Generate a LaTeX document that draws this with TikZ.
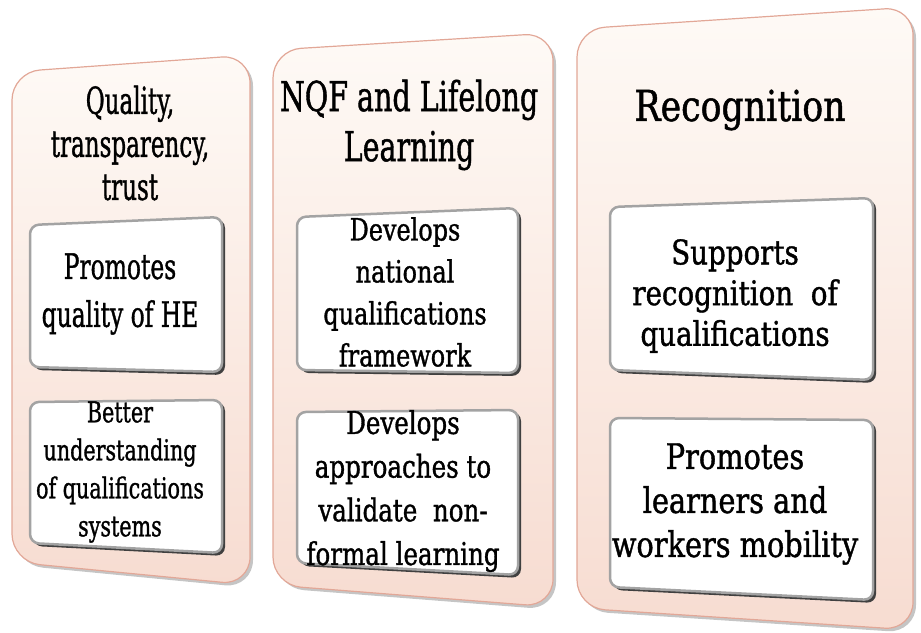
\documentclass[tikz,border=0pt]{standalone}
\usepackage{fontspec}
\setmainfont[FakeBold=1.2]{DejaVu Serif Condensed}
\definecolor{paneltop}{HTML}{FEFAF6}
\definecolor{panelbottom}{HTML}{F7DCD1}
\definecolor{panelline}{HTML}{E2A797}
\definecolor{cardline}{HTML}{A3A3A3}
\begin{document}
\begin{tikzpicture}[x=1pt, y=-1pt,
    panel/.style = {draw = panelline, line width = 1.2pt, rounded corners = 28pt,
      top color = paneltop, bottom color = panelbottom},
    panelshadow/.style = {fill = black!45, rounded corners = 28pt, opacity = 0.5},
    card/.style = {draw = cardline, line width = 2.5pt, fill = white, rounded corners = 9pt},
    cardshadow/.style = {fill = black!75, rounded corners = 9pt},
    boxtext/.style = {align = center, transform shape, inner sep = 0pt}]
    \useasboundingbox (0, 0) rectangle (921, 632);

    % panel corners
    \coordinate (A1) at (12, 72);   \coordinate (A2) at (250, 55);
    \coordinate (A3) at (250, 585); \coordinate (A4) at (12, 562);

    \coordinate (B1) at (273, 50);  \coordinate (B2) at (553, 33);
    \coordinate (B3) at (553, 607); \coordinate (B4) at (273, 585);

    \coordinate (C1) at (577, 29);  \coordinate (C2) at (913, 7);
    \coordinate (C3) at (913, 630); \coordinate (C4) at (577, 608);

    \foreach \p in {A, B, C} {
      \fill[panelshadow] ([shift = {(3, 3)}]\p1) -- ([shift = {(3, 3)}]\p2)
        -- ([shift = {(3, 3)}]\p3) -- ([shift = {(3, 3)}]\p4) -- cycle;
      \draw[panel] (\p1) -- (\p2) -- (\p3) -- (\p4) -- cycle;
    }

    % cards
    \foreach \l/\r/\ta/\tb/\ba/\bb [count = \i] in
      {30/222/225/217/367/372, 30/222/402/400/543/553,
       297/518/217/208/370/373, 297/518/412/410/563/575,
       610/873/207/198/370/380, 610/873/418/420/587/600} {
      \fill[cardshadow] (\l + 3, \ta + 2) -- (\r + 3, \tb + 2)
        -- (\r + 3, \bb + 3) -- (\l + 3, \ba + 3) -- cycle;
      \draw[card] (\l, \ta) -- (\r, \tb) -- (\r, \bb) -- (\l, \ba) -- cycle;
    }

    % text positions
    \coordinate (qt) at (130, 143);
    \coordinate (q1) at (120, 294);
    \coordinate (q2) at (120, 472);
    \coordinate (nt) at (409, 125);
    \coordinate (n1) at (405, 292);
    \coordinate (n2) at (403, 491);
    \coordinate (rt) at (740, 110);
    \coordinate (r1) at (735, 296);
    \coordinate (r2) at (735, 504);

    \node[boxtext, yscale = 1.45, font = \fontsize{25.6}{29.7}\selectfont] (quality) at (qt)
      {Quality,\\transparency,\\trust};
    \node[boxtext, yscale = 1.35, font = \fontsize{26}{35.5}\selectfont] (promotes) at (q1)
      {Promotes\\quality of HE};
    \node[boxtext, yscale = 1.25, font = \fontsize{23}{30.4}\selectfont] (better) at (q2)
      {Better\\understanding\\of qualifications\\systems};

    \node[boxtext, yscale = 1.3, font = \fontsize{31.7}{38.5}\selectfont] (nqf) at (nt)
      {NQF and Lifelong\\Learning};
    \node[boxtext, yscale = 1.15, font = \fontsize{26.6}{36.5}\selectfont] (national) at (n1)
      {Develops\\national\\qualifications\\framework};
    \node[boxtext, yscale = 1.15, font = \fontsize{27.3}{38}\selectfont] (validate) at (n2)
      {Develops\\approaches to\\validate~ non-\\formal learning};

    \node[boxtext, yscale = 1.1, font = \fontsize{38.6}{40}\selectfont] (recognition) at (rt)
      {Recognition};
    \node[boxtext, yscale = 1.1, font = \fontsize{30.8}{37}\selectfont] (supports) at (r1)
      {Supports\\recognition~ of\\qualifications};
    \node[boxtext, yscale = 1.1, font = \fontsize{32}{40}\selectfont] (mobility) at (r2)
      {Promotes\\learners and\\workers mobility};
  \end{tikzpicture}
\end{document}
